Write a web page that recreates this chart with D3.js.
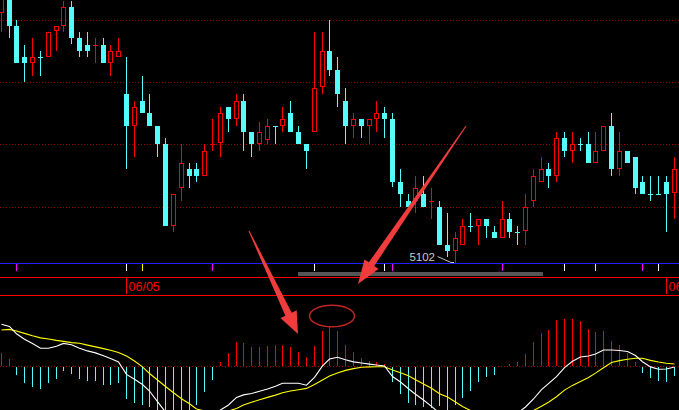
<!DOCTYPE html>
<html><head><meta charset="utf-8">
<script src="https://cdn.jsdelivr.net/npm/d3@7/dist/d3.min.js"></script>
<style>html,body{margin:0;padding:0;background:#000;overflow:hidden}svg{display:block}</style>
</head><body>
<svg id="c" width="679" height="410"></svg>
<script>
// ---- data ----
const opens  = [5352,5368,5339,5308,5302,5308,5308,5334,5339,5358, 5327,5320,5320,5320,5302,5308,5271,5239,5264,5252, 5239,5221,5139,5177,5196,5196,5189,5221,5222,5258, 5246,5264,5233,5221,5225,5239,5239,5252,5233,5221, 5233,5278,5314,5295,5264,5239,5246,5239,5246,5252, 5246,5183,5164,5164,5171,5164,5158,5120,5114,5120, 5139,5139,5146,5133,5127,5146,5133,5134,5164,5183, 5196,5189,5227,5214,5221,5221,5202,5214,5239,5196, 5214,5208,5183,5171,5171,5183,5172];
const highs  = [5370,5370,5345,5320,5327,5314,5333,5339,5364,5364, 5333,5333,5327,5327,5320,5327,5308,5264,5289,5271, 5239,5227,5171,5221,5202,5202,5221,5246,5258,5258, 5271,5271,5233,5243,5246,5239,5258,5264,5239,5221, 5333,5333,5345,5308,5277,5252,5246,5246,5264,5258, 5252,5196,5171,5189,5189,5177,5164,5152,5133,5146, 5152,5146,5146,5139,5164,5152,5139,5171,5196,5208, 5202,5233,5233,5233,5227,5233,5233,5239,5252,5233, 5214,5208,5189,5189,5189,5189,5208];
const lows   = [5333,5327,5302,5283,5289,5289,5308,5314,5333,5321, 5308,5308,5302,5302,5289,5308,5196,5208,5252,5239, 5208,5139,5133,5164,5177,5183,5189,5214,5208,5233, 5239,5214,5208,5214,5221,5221,5233,5233,5221,5196, 5233,5271,5289,5258,5221,5227,5227,5221,5233,5227, 5178,5158,5158,5152,5158,5146,5120,5108,5102,5120, 5133,5120,5127,5127,5127,5127,5120,5120,5158,5183, 5177,5183,5208,5202,5214,5202,5202,5214,5189,5189, 5202,5171,5171,5164,5171,5133,5146];
const closes = [5367,5339,5302,5302,5308,5307.8,5333,5339,5358,5327, 5314,5314,5320.2,5302,5314,5314,5239,5258,5252,5239, 5221,5139,5171,5202,5189,5189,5214,5221.2,5252,5246, 5264,5233,5221,5233,5239,5238.8,5246,5233,5221,5214, 5277,5314,5295,5271,5239,5246,5239,5246,5252,5246, 5183,5171,5158,5177,5158,5164.2,5120,5114,5127,5139, 5138.8,5146,5139,5127,5146,5133,5132.8,5158,5189,5196, 5189,5227,5214,5221,5220.8,5202,5214,5239,5196,5214, 5202,5177,5171,5170.8,5170.8,5171,5196];

const difValues = [41.7,39.6,32.2,26.8,22.5,17.7,17.7,19.8,22.6,21.2, 17.8,15.1,13.1,10.3,7.4,4.1,-8.4,-13.3,-18.5,-25, -35.7,-46,-54,-59.7,-62.8,-61.7,-57,-52,-44,-39, -31.4,-28.9,-27.5,-25.3,-23,-20.3,-17.3,-17.3,-17.3,-19.2, -11.3,0.1,7,8.7,6.2,4.1,3,1.9,1,0, -10.5,-16,-22.7,-28.2,-34,-40.3,-47.2,-52.4,-54.7,-55.7, -56.2,-54.2,-53.2,-53.2,-50,-48.7,-47.2,-41,-33,-23.7, -17.6,-10.7,-1.6,4.8,9,10,11.9,16,16,15.5, 14.5,10.5,4.3,-0.9,-3.3,-3,-1];
const deaValues = [36,36.6,35,32.6,30.2,28.1,27,25.6,24.6,23.4, 22.7,20.9,19.1,17.4,15.8,13.6,9.9,5,-0.9,-7.5, -14,-20.5,-26.8,-32.7,-37.8,-43,-45,-46,-46.3,-45, -42.5,-39,-36.3,-33.7,-31.4,-29.1,-26.8,-25,-23.7,-22.4, -18.5,-14.1,-10.1,-7,-4.4,-2.6,-1.2,-0.9,-0.7,-0.7, -4,-6.7,-9.7,-13.7,-17.9,-22.3,-27.8,-31,-36,-40.5, -44.5,-47,-48.5,-49.5,-50,-50,-49.5,-48,-44.5,-40.3, -36.2,-30.7,-24.1,-19.4,-15.5,-11.5,-7.1,-1.7,3.5,5.4, 6.7,7.7,7.7,5.6,4,2.8,2];
const macdValues = [13.3,7,-7.7,-15.7,-19.7,-21.7,-15.7,-11.7,-3.7,-6.7, -11.7,-13.7,-13.7,-17.7,-17.7,-15.7,-31.7,-35.7,-37.7,-39.7, -44.5,-51,-54.4,-54,-50,-37.7,-24.7,-12.7,4.3,13.3, 24.3,23.3,19.3,19.3,20.3,21.3,21.3,19.3,14.3,9.3, 20.3,35.3,39.3,35.3,21.3,14.3,8.3,5.3,4.3,2.3, -14.7,-26.7,-35.7,-37.7,-39.7,-40.7,-38.7,-43,-37.7,-30.7, -23.7,-14.7,-9.7,-7.7,0,2.3,4.3,12.3,24.3,33.3, 36.3,46.3,47.3,47.3,45.3,37.3,34.3,35.3,25.3,21.3, 13.3,4.3,-5.7,-10.7,-13.7,-14.7,-8.7];

const gridLevels = [5345, 5283, 5221, 5158];
const signalIdx  = [2, 16, 18, 27, 40, 49, 50, 64, 72, 76, 82, 84];
const signalKind = ["M","W","Y","M","W","W","M","M","W","Y","M","W"];
const dateIdx    = [16, 85];
const dateLabels = ["06/05", "06/06"];
const rangeIdx   = [38, 69];
const lowLabel   = "5102";

// ---- styles ----
const RED = "#ff0000", CYAN = "#54fcfc";
const kindColor = {M:"#ff00ff", W:"#ffffff", Y:"#ffff00"};
const W = 679, H = 410;

const svg = d3.select("#c");
svg.append("rect").attr("width", W).attr("height", H).attr("fill", "#000");

const n = opens.length;
const x = d3.scaleLinear().domain([0, n - 1]).range([1.3, 674.12]);
const cx = i => Math.floor(x(i));
const yP = d3.scaleLinear().domain([5102, 5365]).range([263, 0]);
const yM = d3.scaleLinear().domain([-44, 71]).range([410, 295]);

// price grid (dotted)
svg.append("g").selectAll("line").data(gridLevels).join("line")
  .attr("x1", 0).attr("x2", W)
  .attr("y1", d => Math.round(yP(d)) + 0.5).attr("y2", d => Math.round(yP(d)) + 0.5)
  .attr("stroke", "#8a0000").attr("stroke-dasharray", "1,2");

// candles
const gC = svg.append("g").attr("shape-rendering", "crispEdges");
d3.range(n).forEach(i => {
  const o = opens[i], c = closes[i], h = highs[i], l = lows[i];
  const up = c >= o, col = up ? RED : CYAN;
  const yo = Math.round(yP(o)), yc = Math.round(yP(c));
  const yh = Math.round(yP(h)), yl = Math.round(yP(l));
  const px = cx(i);
  gC.append("rect").attr("x", px).attr("y", yh).attr("width", 1)
    .attr("height", Math.max(1, yl - yh)).attr("fill", col);
  if (Math.abs(yo - yc) < 1) {
    gC.append("rect").attr("x", px - 2).attr("y", yo).attr("width", 5).attr("height", 1).attr("fill", col);
  } else if (up) {
    gC.append("rect").attr("x", px - 1.5).attr("y", yc + 0.5).attr("width", 4)
      .attr("height", yo - yc - 1).attr("fill", "#000").attr("stroke", col).attr("stroke-width", 1);
  } else {
    gC.append("rect").attr("x", px - 2).attr("y", yo).attr("width", 5)
      .attr("height", yc - yo).attr("fill", col);
  }
});

// lowest-price label
const iLow = d3.minIndex(lows);
const lx = cx(iLow), ly = yP(lows[iLow]);
svg.append("text").attr("x", lx - 20).attr("y", ly - 2.3).attr("text-anchor", "end")
  .attr("font-family", "Liberation Sans, Arial, sans-serif").attr("font-size", 11.5)
  .attr("fill", "#c8c8c8").text(lowLabel);
svg.append("polyline")
  .attr("points", `${lx-17.5},${ly-6.5} ${lx-4},${ly-0.5} ${lx-1},${ly-0.5}`)
  .attr("fill", "none").attr("stroke", "#c0c0c0").attr("stroke-width", 1);

// panel separator (blue) + signal ticks
svg.append("rect").attr("x", 0).attr("y", 263).attr("width", W).attr("height", 1).attr("fill", "#2020ff");
svg.append("g").attr("shape-rendering", "crispEdges").selectAll("rect").data(signalIdx).join("rect")
  .attr("x", d => cx(d)).attr("y", 264).attr("width", 1).attr("height", 7)
  .attr("fill", (d, k) => kindColor[signalKind[k]]);

// gray range bar
svg.append("rect").attr("x", cx(rangeIdx[0])).attr("y", 272)
  .attr("width", cx(rangeIdx[1]) + 2 - cx(rangeIdx[0])).attr("height", 4).attr("fill", "#555555");

// date axis
svg.append("rect").attr("x", 0).attr("y", 277).attr("width", W).attr("height", 1).attr("fill", RED);
svg.append("rect").attr("x", 0).attr("y", 295).attr("width", W).attr("height", 1).attr("fill", RED);
const gD = svg.append("g");
dateIdx.forEach((d, k) => {
  gD.append("rect").attr("x", cx(d)).attr("y", 278).attr("width", 1).attr("height", 16).attr("fill", RED);
  gD.append("text").attr("x", cx(d) + 2.5).attr("y", 290.5)
    .attr("font-family", "Liberation Sans, Arial, sans-serif").attr("font-size", 12.5)
    .attr("fill", RED).text(dateLabels[k]);
});

// MACD panel
const gM = svg.append("g");
gM.append("line").attr("x1", 0).attr("x2", W).attr("y1", Math.round(yM(0)) + 0.5).attr("y2", Math.round(yM(0)) + 0.5)
  .attr("stroke", "#9a0000").attr("stroke-dasharray", "1,2");
const z = Math.round(yM(0));
gM.append("g").attr("shape-rendering", "crispEdges").selectAll("rect").data(macdValues).join("rect")
  .attr("x", (d, i) => cx(i))
  .attr("y", d => d > 0 ? Math.round(yM(d)) : z + 1)
  .attr("width", 1)
  .attr("height", d => d > 0 ? z - Math.round(yM(d)) : Math.max(0, Math.round(yM(d)) - z))
  .attr("fill", d => d > 0 ? RED : CYAN);
const line = d3.line().x((d, i) => cx(i) + 0.5).y(d => yM(d));
gM.append("path").datum(deaValues).attr("d", line).attr("fill", "none")
  .attr("stroke", "#ffff00").attr("stroke-width", 1.1);
gM.append("path").datum(difValues).attr("d", line).attr("fill", "none")
  .attr("stroke", "#ffffff").attr("stroke-width", 1.1);

// ---- hand-drawn annotations ----
function arrow(x0, y0, x1, y1, w0, w1, hw, hl) {
  const L = Math.hypot(x1 - x0, y1 - y0), dx = (x1 - x0) / L, dy = (y1 - y0) / L;
  const nx = -dy, ny = dx;
  const bx = x1 - dx * hl, by = y1 - dy * hl;
  const p = [
    [x0 + nx * w0 / 2, y0 + ny * w0 / 2],
    [bx + nx * w1 / 2, by + ny * w1 / 2],
    [bx + nx * hw / 2, by + ny * hw / 2],
    [x1, y1],
    [bx - nx * hw / 2, by - ny * hw / 2],
    [bx - nx * w1 / 2, by - ny * w1 / 2],
    [x0 - nx * w0 / 2, y0 - ny * w0 / 2]
  ];
  return "M" + p.map(q => q.join(",")).join("L") + "Z";
}
const gA = svg.append("g");
gA.append("path").attr("d", arrow(249, 231, 298, 334, 1, 7, 18, 22)).attr("fill", "#f03c3c");
gA.append("path").attr("d", arrow(466, 126, 358, 284, 1, 6.5, 17, 24)).attr("fill", "#f03c3c");
gA.append("ellipse").attr("cx", 332).attr("cy", 316).attr("rx", 22.5).attr("ry", 10.8)
  .attr("fill", "none").attr("stroke", "#c02424").attr("stroke-width", 1.5);
</script>
</body></html>
